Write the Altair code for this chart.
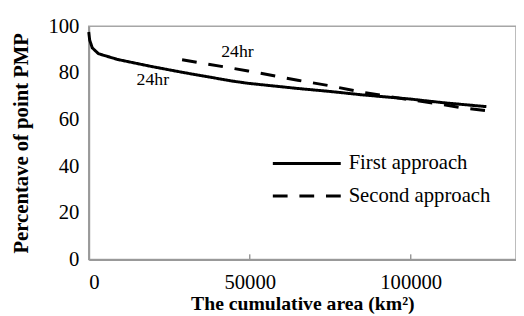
import altair as alt
import pandas as pd

first_x = [0, 300, 1100, 3000, 9000, 19500, 29500, 44400, 49500, 64800, 75000, 85300, 99500, 110000, 123500]
first_y = [97.5, 94.0, 90.7, 88.2, 85.7, 82.7, 80.1, 76.5, 75.5, 73.3, 72.0, 70.5, 68.8, 67.2, 65.5]
second_x = [29000, 49500, 64900, 75000, 85300, 99400, 108600, 115900, 123500]
second_y = [85.6, 80.8, 76.8, 74.4, 71.6, 68.5, 66.7, 65.0, 63.8]
series = ["First approach", "Second approach"]
label_x = [19900, 46200]
label_y = [77.0, 89.0]
label_text = ["24hr", "24hr"]
x_ticks = [0, 50000, 100000]
y_ticks = [0, 20, 40, 60, 80, 100]

df = pd.concat([
    pd.DataFrame({"x": first_x, "y": first_y, "s": series[0], "o": range(len(first_x))}),
    pd.DataFrame({"x": second_x, "y": second_y, "s": series[1], "o": range(len(second_x))}),
])
labels = pd.DataFrame({"x": label_x, "y": label_y, "t": label_text})
ticks = pd.DataFrame({"x": x_ticks[1:], "y0": [0, 0], "y1": [2.2, 2.2]})

FONT = "Liberation Serif"
xs = alt.Scale(domain=[0, 132700], nice=False, zero=False)
ys = alt.Scale(domain=[0, 100], nice=False)

lines = alt.Chart(df).mark_line(strokeWidth=3, color="black").encode(
    x=alt.X("x:Q", scale=xs, axis=alt.Axis(values=x_ticks, format="d", title="The cumulative area (km²)",
                                           grid=False, ticks=False, labelPadding=12, titlePadding=2,
                                           labelFont=FONT, titleFont=FONT)),
    y=alt.Y("y:Q", scale=ys, axis=alt.Axis(values=y_ticks, title="Percentave of point PMP",
                                           grid=False, ticks=False, labelPadding=10, titlePadding=17,
                                           labelFont=FONT, titleFont=FONT, titleFontSize=21)),
    strokeDash=alt.StrokeDash("s:N", scale=alt.Scale(domain=series, range=[[1, 0], [15, 12]]),
                              legend=alt.Legend(title=None, orient="none", legendX=206, legendY=124,
                                                symbolType="M-2.5,0L2.5,0", symbolSize=762, symbolStrokeWidth=3,
                                                symbolStrokeColor="black", labelFont=FONT, labelFontSize=21,
                                                labelColor="black", labelOffset=27, rowPadding=7, padding=0)),
    order="o:Q",
)

tick_rules = alt.Chart(ticks).mark_rule(color="#999999", strokeWidth=1.5).encode(
    x=alt.X("x:Q", scale=xs), y=alt.Y("y0:Q", scale=ys), y2="y1:Q")

text = alt.Chart(labels).mark_text(font=FONT, fontSize=18, color="black").encode(
    x=alt.X("x:Q", scale=xs), y=alt.Y("y:Q", scale=ys), text="t:N")

chart = alt.layer(tick_rules, lines, text).properties(
    width=434, height=237, padding={"left": 2, "top": 5, "right": 0, "bottom": 0}
).configure(font=FONT).configure_view(stroke="#a6a6a6", strokeWidth=1.5).configure_axis(
    domainColor="#999999", domainWidth=2, labelFont=FONT, labelFontSize=21, labelColor="black",
    titleFont=FONT, titleFontSize=20, titleFontWeight="bold", titleColor="black"
).configure_legend(labelFont=FONT).configure_text(font=FONT)

chart.save("out.html", embed_options={"renderer": "svg", "actions": False})
